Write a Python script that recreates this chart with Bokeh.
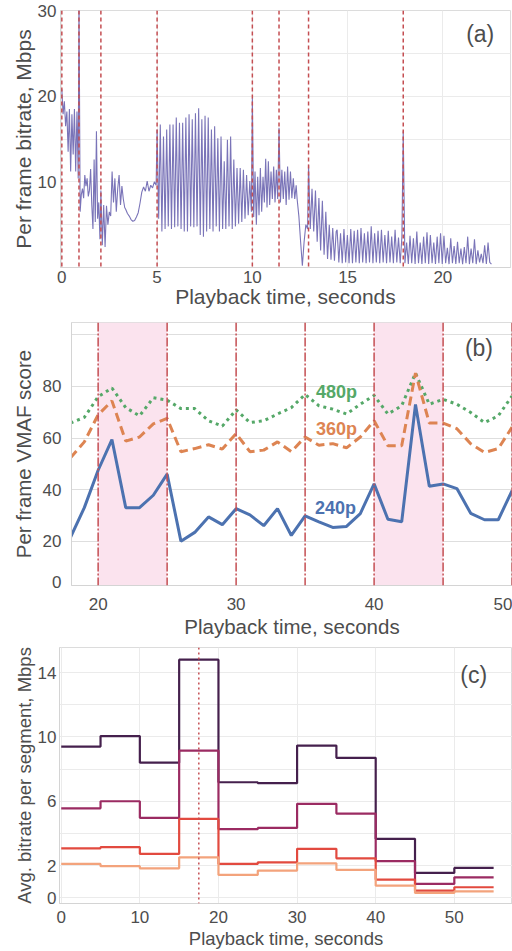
import numpy as np
from bokeh.plotting import figure
from bokeh.models import FixedTicker, Range1d, Span, BoxAnnotation, Label
from bokeh.embed import file_html
from bokeh.resources import INLINE

# ---------------- Panel (a): per-frame bitrate (Mbps) ----------------
a_seg_start = [0.0, 0.9, 2.05, 3.35, 5.0, 10.0, 11.4, 12.35, 12.95, 14.45, 17.92]
a_seg_end = [0.86, 2.0, 3.3, 4.95, 9.95, 11.33, 12.3, 12.9, 14.4, 17.85, 22.55]
a_seg1 = [20.8, 17.9, 19.4, 16.5, 18.2, 13.5, 18.5, 11.2, 17.9, 13.2, 18.5, 11.2, 18.2, 10.4]
a_seg2 = [32.0, 6.5, 8.5, 9.2, 8.1, 10.8, 9.5, 10.4, 8.3, 9.0, 11.5, 7.3, 4.5, 12.6, 5.3, 15.9, 5.7, 7.6, 3.3]
a_seg3 = [9.0, 2.6, 7.3, 2.4, 7.2, 5.0, 6.5, 6.0, 11.2, 7.6, 10.4, 6.5, 9.2, 10.8, 7.3, 9.5, 8.0, 7.0]
a_seg4 = [6.8, 6.3, 6.0, 5.6, 5.4, 5.5, 5.9, 6.4, 7.5, 8.8, 9.4, 8.9, 10.1, 8.9, 9.6, 9.3, 10.0, 9.6]
a_seg5 = [16.1, 5.7, 16.7, 4.2, 15.3, 4.5, 16.1, 4.8, 16.7, 4.5, 16.7, 4.7, 17.5, 4.8, 16.9, 4.5,
          16.9, 4.2, 17.5, 4.2, 17.9, 4.8, 17.3, 4.7, 18.0, 4.8, 18.6, 3.8, 17.3, 3.6, 17.7, 4.2,
          17.5, 4.5, 16.1, 4.2, 16.5, 4.8, 15.1, 4.2, 15.3, 4.5, 12.4, 4.5, 14.9, 4.8, 15.3, 4.5,
          12.6, 4.8, 11.6, 5.1, 11.6, 5.3, 11.4, 5.7, 10.8, 6.1, 10.1, 6.5]
a_seg6 = [19.8, 5.9, 11.2, 5.0, 10.6, 6.1, 11.6, 6.5, 10.6, 7.6, 12.7, 7.0, 12.4, 7.3, 11.2, 8.0, 11.8, 7.6, 11.4, 8.0]
a_seg7 = [16.3, 7.6, 11.4, 8.0, 11.2, 7.3, 11.8, 7.9, 11.2, 8.1, 10.4, 8.0, 9.6]
a_seg8 = [8.0, 6.0, 3.0, 0.2, 3.0, 5.0, 4.5]
a_seg9 = [12.0, 4.5, 9.2, 4.2, 9.0, 3.0, 8.1, 2.0, 7.8, 1.5, 6.5, 1.0, 5.0, 0.9, 4.6, 0.8, 4.2]
a_seg10 = [4.4, 0.6, 4.0, 0.5, 4.5, 0.6, 3.8, 0.5, 4.5, 0.5, 4.3, 0.6, 4.4, 0.5, 4.6, 0.6, 4.0, 0.5, 4.2,
           0.6, 4.8, 0.5, 4.0, 0.6, 4.3, 0.5, 4.4, 0.6, 3.8, 0.5, 4.3, 0.6, 3.6, 0.5, 4.4, 0.6, 3.5, 0.5, 3.6]
a_seg11 = [15.9, 0.5, 2.9, 0.4, 3.7, 0.5, 3.4, 0.4, 4.2, 0.5, 2.9, 0.4, 3.6, 0.5, 4.1, 0.4, 3.8, 0.5,
           2.9, 0.4, 3.6, 0.5, 4.0, 0.4, 3.7, 0.5, 2.3, 0.4, 3.4, 0.5, 2.5, 0.4, 3.0, 0.5, 2.2, 0.4,
           2.4, 0.5, 3.6, 0.4, 2.2, 0.5, 3.3, 0.4, 2.0, 0.6, 1.6, 0.5, 2.6, 0.4, 2.9, 0.6, 0.4]
a_segments = [a_seg1, a_seg2, a_seg3, a_seg4, a_seg5, a_seg6, a_seg7, a_seg8, a_seg9, a_seg10, a_seg11]
a_switch_times = [0.0, 0.9, 2.05, 5.0, 10.0, 11.4, 12.95, 17.92]
a_xticks = [0, 5, 10, 15, 20]
a_yticks = [10, 20, 30]

# ---------------- Panel (b): per-frame VMAF ----------------
b_time = list(range(18, 51))
b_240p = [21.5, 33, 47.5, 59.4, 33, 33, 37.8, 46, 20, 23.4, 29.4, 26.4, 32.6, 30.2, 26, 32.6, 22.2,
          29.8, 27.5, 25.3, 25.7, 30.7, 42.2, 28.5, 27.5, 73, 41.3, 42.2, 40.4, 30.8, 28.3, 28.3, 39.6]
b_360p = [52.3, 58.5, 69, 74.4, 58.8, 60.4, 65.5, 67.6, 54.7, 55.9, 57.4, 55.7, 61.7, 54.7, 55.3, 58.5,
          54.7, 60.4, 57.2, 57.8, 56.2, 60.4, 66.7, 57, 57, 85.2, 65.8, 65.8, 63.6, 57.8, 54.4, 55.9, 64.2]
b_480p = [65.8, 68, 76, 79.4, 71.8, 68.6, 75.6, 74.7, 71.4, 71.4, 66.7, 64.6, 70.9, 66, 66.7, 69.3,
          71.8, 76.9, 72.5, 71.2, 69.3, 73.1, 76.5, 69.3, 72.5, 85.2, 73.1, 75, 73.1, 69.9, 66, 68.6, 76.3]
b_switch_times = [20, 25, 30, 35, 40, 45, 50]
b_shaded = [(20, 25), (40, 45)]
b_xticks = [20, 30, 40, 50]

# ---------------- Panel (c): average bitrate per segment ----------------
c_seg_start = [0, 5, 10, 15, 20, 25, 30, 35, 40, 45, 50, 55]
c_q1 = [9.4, 10.05, 8.4, 14.8, 7.18, 7.12, 9.46, 8.7, 3.66, 1.54, 1.85]
c_q2 = [5.56, 6.0, 4.97, 9.15, 4.26, 4.34, 5.84, 5.23, 2.27, 0.86, 1.27]
c_q3 = [3.07, 3.14, 2.72, 4.9, 2.1, 2.2, 3.04, 2.45, 1.13, 0.44, 0.65]
c_q4 = [2.1, 1.96, 1.83, 2.51, 1.42, 1.69, 2.14, 1.73, 0.75, 0.3, 0.4]
c_colors = ["#45204d", "#9b2b62", "#e24a3f", "#f3a37c"]
c_marker = 17.5
c_xticks = [0, 10, 20, 30, 40, 50]
c_yticks = [0, 2, 6, 10, 14]

FONT = "Liberation Sans"
TXT = "#4d4d4d"
RED = "#c44e52"


def style(p, xt, yt, xg, yg, tick_px, title_px, grid_color="#ebebeb"):
    p.xaxis.ticker = FixedTicker(ticks=xt)
    p.yaxis.ticker = FixedTicker(ticks=yt)
    if xg:
        p.xgrid.ticker = FixedTicker(ticks=xg)
    else:
        p.xgrid.visible = False
    p.ygrid.ticker = FixedTicker(ticks=yg)
    for ax in (p.xaxis[0], p.yaxis[0]):
        ax.major_tick_line_color = None
        ax.minor_tick_line_color = None
        ax.major_tick_out = 0
        ax.major_tick_in = 0
        ax.minor_tick_out = 0
        ax.minor_tick_in = 0
        ax.axis_line_color = "#d4d4d4"
        ax.major_label_text_font = FONT
        ax.major_label_text_font_size = f"{tick_px}px"
        ax.major_label_text_color = TXT
        ax.axis_label_text_font = FONT
        ax.axis_label_text_font_size = f"{title_px}px"
        ax.axis_label_text_font_style = "normal"
        ax.axis_label_text_color = TXT
    p.grid.grid_line_color = grid_color
    p.grid.grid_line_width = 1
    p.outline_line_color = "#dcdcdc"
    p.background_fill_color = "white"
    p.border_fill_color = "white"


# ---- figure A ----
pa = figure(width=512, height=310, output_backend="svg", toolbar_location=None,
            x_range=Range1d(-0.07, 23.55), y_range=Range1d(0, 30),
            min_border_left=60, min_border_right=2, min_border_top=10, min_border_bottom=0,
            x_axis_label="Playback time, seconds", y_axis_label="Per frame bitrate, Mbps")
style(pa, a_xticks, a_yticks, a_xticks, [5, 10, 15, 20, 25, 30], 17, 21)
pa.xaxis.major_label_standoff = 3
pa.xaxis.axis_label_standoff = -1
pa.yaxis.major_label_standoff = 4
pa.yaxis.axis_label_standoff = 0
for s in a_switch_times:
    pa.add_layout(Span(location=s, dimension="height", line_color=RED, line_dash="4 3", line_width=1.5))
ta, va = [], []
for s0, s1, vals in zip(a_seg_start, a_seg_end, a_segments):
    ta.extend(np.linspace(s0, s1, len(vals)).tolist())
    va.extend(vals)
pa.line(ta, va, line_color="#7a74b8", line_width=1.1)
pa.add_layout(Label(x=21.96, y=27.3, text="(a)", text_font=FONT, text_font_size="23px",
                    text_color=TXT, text_align="center", text_baseline="middle"))

# ---- figure B ----
pb = figure(width=512, height=330, output_backend="svg", toolbar_location=None,
            x_range=Range1d(18.07, 50.03), y_range=Range1d(2.8, 104.8),
            min_border_left=71, min_border_right=0, min_border_top=12, min_border_bottom=0,
            x_axis_label="Playback time, seconds", y_axis_label="Per frame VMAF score")
style(pb, b_xticks, [4.3, 20, 40, 60, 80], [], [20, 40, 60, 80, 100], 17, 20.5, grid_color="#dedede")
pb.yaxis.major_label_overrides = {4.3: "0"}
pb.yaxis.major_label_standoff = 10
pb.yaxis.axis_label_standoff = 5
pb.xaxis.major_label_standoff = 12
pb.xaxis.axis_label_standoff = 2
for lo, hi in b_shaded:
    pb.add_layout(BoxAnnotation(left=lo, right=hi, fill_color="#fbe3ee", fill_alpha=1.0, line_color=None, level="underlay"))
for s in b_switch_times:
    pb.add_layout(Span(location=s, dimension="height", line_color=RED, line_dash="9 2 2 2", line_width=1.5))
pb.line(b_time, b_480p, line_color="#55a868", line_width=3, line_dash="3 4")
pb.line(b_time, b_360p, line_color="#dd8452", line_width=3, line_dash="9 5")
pb.line(b_time, b_240p, line_color="#4c72b0", line_width=3)
for txt, x, y, c in [("480p", 37.27, 77.7, "#55a868"), ("360p", 37.27, 63.6, "#dd8452"), ("240p", 37.2, 33.0, "#4c72b0")]:
    pb.add_layout(Label(x=x, y=y, text=txt, text_font=FONT, text_font_size="18px", text_font_style="bold",
                        text_color=c, text_align="center", text_baseline="middle"))
pb.add_layout(Label(x=47.6, y=94.8, text="(b)", text_font=FONT, text_font_size="23px",
                    text_color=TXT, text_align="center", text_baseline="middle"))

# ---- figure C ----
pc = figure(width=512, height=311, output_backend="svg", toolbar_location=None,
            x_range=Range1d(-0.22, 57.4), y_range=Range1d(-0.36, 15.56),
            min_border_left=59, min_border_right=0, min_border_top=7, min_border_bottom=0,
            x_axis_label="Playback time, seconds", y_axis_label="Avg. bitrate per segment, Mbps")
style(pc, c_xticks, c_yticks, c_xticks, [0, 2, 4, 6, 8, 10, 12, 14], 17, 18.5)
pc.xaxis.major_label_standoff = 7
pc.xaxis.axis_label_standoff = 2
pc.yaxis.major_label_standoff = 3
pc.yaxis.axis_label_standoff = 0
pc.add_layout(Span(location=c_marker, dimension="height", line_color=RED, line_dash="2 3", line_width=1.5))
for vals, col in zip([c_q1, c_q2, c_q3, c_q4], c_colors):
    pc.step(c_seg_start, vals + [vals[-1]], mode="after", line_color=col, line_width=2.2)
pc.add_layout(Label(x=52.46, y=13.82, text="(c)", text_font=FONT, text_font_size="23px",
                    text_color=TXT, text_align="center", text_baseline="middle"))

open("out.html", "w").write(file_html([pa, pb, pc], INLINE))
